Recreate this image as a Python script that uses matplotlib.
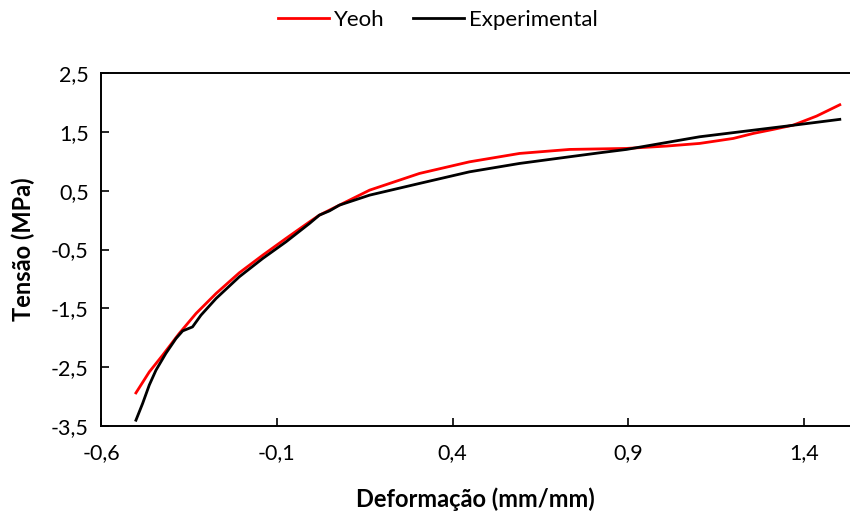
import matplotlib.pyplot as plt
from matplotlib.ticker import FuncFormatter

plt.rcParams['font.family'] = ['Lato', 'DejaVu Sans']

# Curva experimental (deformação, tensão)
exp_strain = [-0.501, -0.482, -0.463, -0.444, -0.416, -0.387, -0.368, -0.340, -0.316,
              -0.273, -0.207, -0.140, -0.074, -0.007, 0.021, 0.050, 0.078, 0.164,
              0.306, 0.448, 0.591, 0.733, 0.819, 0.895, 1.103, 1.351, 1.502]
exp_stress = [-3.401, -3.117, -2.803, -2.551, -2.267, -2.012, -1.883, -1.815, -1.616,
              -1.332, -0.964, -0.651, -0.369, -0.056, 0.085, 0.158, 0.255, 0.425,
              0.624, 0.821, 0.964, 1.077, 1.145, 1.202, 1.417, 1.599, 1.713]

# Ajuste do modelo de Yeoh
yeoh_strain = [-0.501, -0.463, -0.425, -0.378, -0.330, -0.273, -0.207, -0.140,
               -0.074, -0.007, 0.021, 0.078, 0.164, 0.306, 0.448, 0.591, 0.733,
               0.895, 1.009, 1.103, 1.199, 1.256, 1.313, 1.370, 1.436, 1.502]
yeoh_stress = [-2.937, -2.580, -2.296, -1.927, -1.587, -1.247, -0.896, -0.595,
               -0.311, -0.029, 0.085, 0.255, 0.510, 0.794, 0.991, 1.134, 1.202,
               1.219, 1.259, 1.304, 1.389, 1.474, 1.543, 1.616, 1.769, 1.961]

xticks = [-0.6, -0.1, 0.4, 0.9, 1.4]
yticks = [-3.5, -2.5, -1.5, -0.5, 0.5, 1.5, 2.5]

fig = plt.figure(figsize=(8.5, 5.11), dpi=100)
ax = fig.add_axes([0.119, 0.1663, 0.881, 0.6907])

ax.plot(yeoh_strain, yeoh_stress, color='#ff0000', lw=2.0, label='Yeoh')
ax.plot(exp_strain, exp_stress, color='black', lw=2.0, label='Experimental')

ax.set_xlim(-0.6, 1.531)
ax.set_ylim(-3.5, 2.5)
ax.set_xticks(xticks)
ax.set_yticks(yticks)
comma = FuncFormatter(lambda v, p: f'{v:.1f}'.replace('.', ','))
ax.xaxis.set_major_formatter(comma)
ax.yaxis.set_major_formatter(comma)
ax.tick_params(direction='in', length=6, width=1.2, labelsize=15.5)
ax.tick_params(axis='y', pad=9)
ax.tick_params(axis='x', pad=12)

for s in ['left', 'bottom', 'top']:
    ax.spines[s].set_linewidth(1.4)
ax.spines['right'].set_visible(False)

ax.set_xlabel('Deformação (mm/mm)', fontsize=17, fontweight='bold')
ax.set_ylabel('Tensão (MPa)', fontsize=17, fontweight='bold')
ax.xaxis.set_label_coords(0.5, -0.175)
ax.yaxis.set_label_coords(-0.088, 0.5)

fig.legend(loc='center', bbox_to_anchor=(0.515, 0.961), ncol=2, frameon=False,
           fontsize=16, handlelength=2.3, handletextpad=0.2, columnspacing=1.3)

fig.savefig('out.png', dpi=100)
